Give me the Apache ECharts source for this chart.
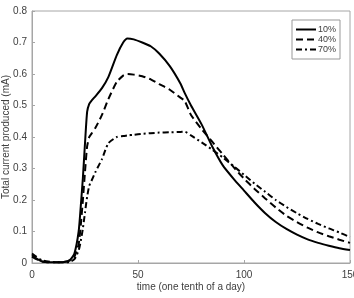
<!DOCTYPE html>
<html>
<head>
<meta charset="utf-8">
<script src="https://cdn.jsdelivr.net/npm/echarts@6/dist/echarts.min.js"></script>
<style>
  html, body { margin: 0; padding: 0; background: #fff; }
  #chart { width: 354px; height: 298px; }
</style>
</head>
<body>
<div id="chart"></div>
<script>
const times = [0, 2, 5, 10, 15, 18, 20, 22, 23, 24, 25, 26, 27, 28, 30, 33, 36, 40, 43, 45, 48, 52, 56, 60, 65, 70, 72, 75, 80, 85, 90, 95, 100, 105, 110, 115, 120, 125, 130, 135, 140, 145, 150];
const current10 = [0.025, 0.015, 0.005, 0.002, 0.003, 0.01, 0.03, 0.1, 0.18, 0.27, 0.38, 0.48, 0.505, 0.515, 0.53, 0.555, 0.59, 0.66, 0.7, 0.713, 0.71, 0.7, 0.688, 0.665, 0.625, 0.57, 0.54, 0.5, 0.44, 0.37, 0.31, 0.268, 0.23, 0.192, 0.158, 0.13, 0.108, 0.09, 0.075, 0.064, 0.055, 0.047, 0.041];
const current40 = [0.02, 0.012, 0.004, 0.002, 0.003, 0.008, 0.02, 0.06, 0.12, 0.2, 0.29, 0.37, 0.4, 0.41, 0.43, 0.47, 0.52, 0.575, 0.595, 0.6, 0.598, 0.593, 0.583, 0.568, 0.55, 0.525, 0.515, 0.47, 0.425, 0.385, 0.345, 0.305, 0.268, 0.235, 0.205, 0.176, 0.15, 0.13, 0.112, 0.097, 0.085, 0.074, 0.064];
const current70 = [0.03, 0.02, 0.008, 0.003, 0.002, 0.004, 0.012, 0.04, 0.07, 0.11, 0.16, 0.21, 0.245, 0.26, 0.29, 0.33, 0.38, 0.4, 0.403, 0.405, 0.407, 0.41, 0.412, 0.414, 0.415, 0.416, 0.417, 0.405, 0.383, 0.36, 0.335, 0.308, 0.28, 0.252, 0.226, 0.2, 0.178, 0.158, 0.14, 0.124, 0.11, 0.097, 0.082];
const seriesNames = ['10%', '40%', '70%'];
const xTicks = [0, 50, 100, 150];

const chart = echarts.init(document.getElementById('chart'), null, { renderer: 'canvas' });
const pairs = (vals) => times.map((t, i) => [t, vals[i]]);
const dashes = ['solid', [7, 4], [6, 3, 2, 3]];
const valuesList = [current10, current40, current70];

const axisColor = '#a6a6a6';
const textColor = '#404040';
const font = 'Arial, "Liberation Sans", sans-serif';

const option = {
  animation: false,
  grid: {
    left: 32, right: 4, top: 11, bottom: 35,
    containLabel: false, outerBoundsMode: 'none',
    show: true, borderColor: axisColor, borderWidth: 1
  },
  legend: {
    orient: 'vertical',
    left: 292,
    top: 20,
    width: 49,
    padding: [5, 4, 5, 3],
    itemGap: 1,
    itemWidth: 20,
    itemHeight: 9,
    borderColor: '#999',
    borderWidth: 1,
    backgroundColor: '#fff',
    data: seriesNames,
    itemStyle: { opacity: 0 },
    textStyle: { color: textColor, fontSize: 9, fontFamily: font, padding: [0, 0, 0, -3] }
  },
  xAxis: {
    type: 'value',
    min: 0,
    max: 150,
    interval: 50,
    name: 'time (one tenth of a day)',
    nameLocation: 'middle',
    nameGap: 19,
    nameMoveOverlap: false,
    nameTextStyle: { color: textColor, fontSize: 10, fontFamily: font },
    axisLine: { show: true, lineStyle: { color: axisColor } },
    axisTick: { show: true, inside: true, length: 3, lineStyle: { color: axisColor } },
    axisLabel: { color: textColor, fontSize: 10, fontFamily: font, margin: 7,
      formatter: (v) => xTicks.includes(v) ? String(v) : '' },
    splitLine: { show: false }
  },
  yAxis: {
    type: 'value',
    min: 0,
    max: 0.8,
    interval: 0.1,
    name: 'Total current produced (mA)',
    nameLocation: 'middle',
    nameGap: 21,
    nameMoveOverlap: false,
    nameTextStyle: { color: textColor, fontSize: 10, fontFamily: font },
    axisLine: { show: true, lineStyle: { color: axisColor } },
    axisTick: { show: true, inside: true, length: 3, lineStyle: { color: axisColor } },
    axisLabel: { color: textColor, fontSize: 10, fontFamily: font, margin: 5,
      formatter: (v) => String(Math.round(v * 10) / 10) },
    splitLine: { show: false }
  },
  series: seriesNames.map((name, i) => ({
    name,
    type: 'line',
    data: pairs(valuesList[i]),
    symbol: 'none',
    smooth: 0.2,
    lineStyle: { color: '#000', width: 2, type: dashes[i] },
    itemStyle: { color: '#000' }
  }))
};

chart.setOption(option);
</script>
</body>
</html>
